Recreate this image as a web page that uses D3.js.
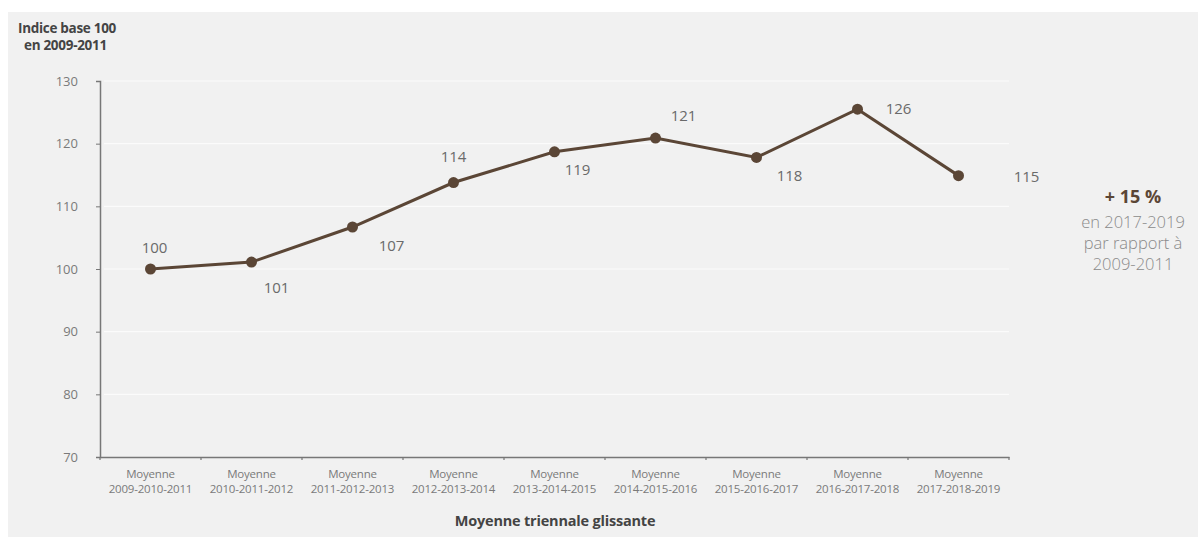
<!DOCTYPE html>
<html><head><meta charset="utf-8">
<script src="https://cdn.jsdelivr.net/npm/d3@7/dist/d3.min.js"></script>
<style>
html,body{margin:0;padding:0;background:#fff;}
svg{display:block;font-family:"Open Sans",sans-serif;}
</style></head>
<body>
<svg id="c" width="1198" height="537"></svg>
<script>
const categories = ["2009-2010-2011","2010-2011-2012","2011-2012-2013","2012-2013-2014","2013-2014-2015","2014-2015-2016","2015-2016-2017","2016-2017-2018","2017-2018-2019"];
const values = [100, 101.1, 106.7, 113.8, 118.7, 120.9, 117.8, 125.5, 114.9];
const valueLabels = ["100","101","107","114","119","121","118","126","115"];
const yTicks = [70, 80, 90, 100, 110, 120, 130];
const yTitle = ["Indice base 100", "en 2009-2011"];
const xTitle = "Moyenne triennale glissante";
const note = ["+ 15 %", "en 2017-2019", "par rapport à", "2009-2011"];

(function(){
// label placement (layout, not data)
const labelOffset = [[4,-21],[25,26],[39,19],[0,-26],[23,18],[28,-22],[33,18],[41,0],[68,1]];

const svg = d3.select("#c");
svg.append("rect").attr("x",8).attr("y",12).attr("width",1190).attr("height",525).attr("fill","#f1f1f1");

const mL = 100, mR = 1009, mT = 81, mB = 457;
const x = d3.scaleBand().domain(categories).range([mL, mR]).padding(0);
const y = d3.scaleLinear().domain([70,130]).range([mB, mT]);

// gridlines
svg.append("g").selectAll("line").data(yTicks.filter(d=>d>70)).join("line")
  .attr("x1", mL+4).attr("x2", mR).attr("y1", d=>y(d)).attr("y2", d=>y(d))
  .attr("stroke","#fbfbfb").attr("stroke-width",1.2);

// y axis
const ya = svg.append("g").attr("transform",`translate(${mL},0)`)
  .call(d3.axisLeft(y).tickValues(yTicks).tickSize(4).tickPadding(18));
ya.select(".domain").attr("stroke","#777").attr("stroke-width",1.5);
ya.selectAll(".tick line").attr("stroke","#777");
ya.selectAll(".tick text").attr("fill","#7a7a7a").style("font-size","13px").style("font-family","Open Sans");

// x axis
const xa = svg.append("g").attr("transform",`translate(0,${mB})`)
  .call(d3.axisBottom(x).tickSize(0).tickFormat(""));
xa.select(".domain").attr("stroke","#777").attr("stroke-width",1.5);
xa.selectAll(".tick").remove();
const bounds = categories.map(c=>x(c)).concat([mR]);
xa.selectAll("line.bt").data(bounds).join("line").attr("class","bt")
  .attr("x1",d=>d).attr("x2",d=>d).attr("y1",0).attr("y2",3).attr("stroke","#777").attr("stroke-width",1.2);
const xl = svg.append("g").selectAll("text").data(categories).join("text")
  .attr("x", d=>x(d)+x.bandwidth()/2).attr("text-anchor","middle")
  .attr("fill","#7a7a7a").style("font-size","11.5px").style("letter-spacing","-0.2px");
xl.append("tspan").attr("x", d=>x(d)+x.bandwidth()/2).attr("y", mB+21).text("Moyenne");
xl.append("tspan").attr("x", d=>x(d)+x.bandwidth()/2).attr("y", mB+36).text(d=>d);

// line
const pts = categories.map((c,i)=>({c, v:values[i], l:valueLabels[i], o:labelOffset[i]}));
const line = d3.line().x(d=>x(d.c)+x.bandwidth()/2).y(d=>y(d.v));
svg.append("path").datum(pts).attr("d",line).attr("fill","none").attr("stroke","#5b4636").attr("stroke-width",3);
svg.append("g").selectAll("circle").data(pts).join("circle")
  .attr("cx",d=>x(d.c)+x.bandwidth()/2).attr("cy",d=>y(d.v)).attr("r",5.5).attr("fill","#5b4636");
svg.append("g").selectAll("text").data(pts).join("text")
  .attr("x",d=>x(d.c)+x.bandwidth()/2+d.o[0]).attr("y",d=>y(d.v)+d.o[1]).attr("dy","0.35em")
  .attr("text-anchor","middle").attr("fill","#6a6a6a").style("font-size","15px").text(d=>d.l);

// titles
svg.append("text").attr("x",18).attr("y",33).attr("fill","#444").style("font-size","13.5px").style("font-weight","bold").style("letter-spacing","-0.3px").text(yTitle[0]);
svg.append("text").attr("x",24).attr("y",50).attr("fill","#444").style("font-size","13.5px").style("font-weight","bold").style("letter-spacing","-0.3px").text(yTitle[1]);
svg.append("text").attr("x",555).attr("y",526).attr("text-anchor","middle").attr("fill","#444").style("font-size","14.5px").style("font-weight","bold").style("letter-spacing","-0.2px").text(xTitle);

// note
const nx = 1133;
svg.append("text").attr("x",nx).attr("y",203).attr("text-anchor","middle").attr("fill","#5b4636").style("font-size","18px").style("font-weight","bold").text(note[0]);
note.slice(1).forEach((t,i)=>{
  svg.append("text").attr("x",nx).attr("y",228+i*21).attr("text-anchor","middle").attr("fill","#8a8a8a").style("font-size","16.5px").style("font-weight","300").text(t);
});
})();
</script>
</body></html>
